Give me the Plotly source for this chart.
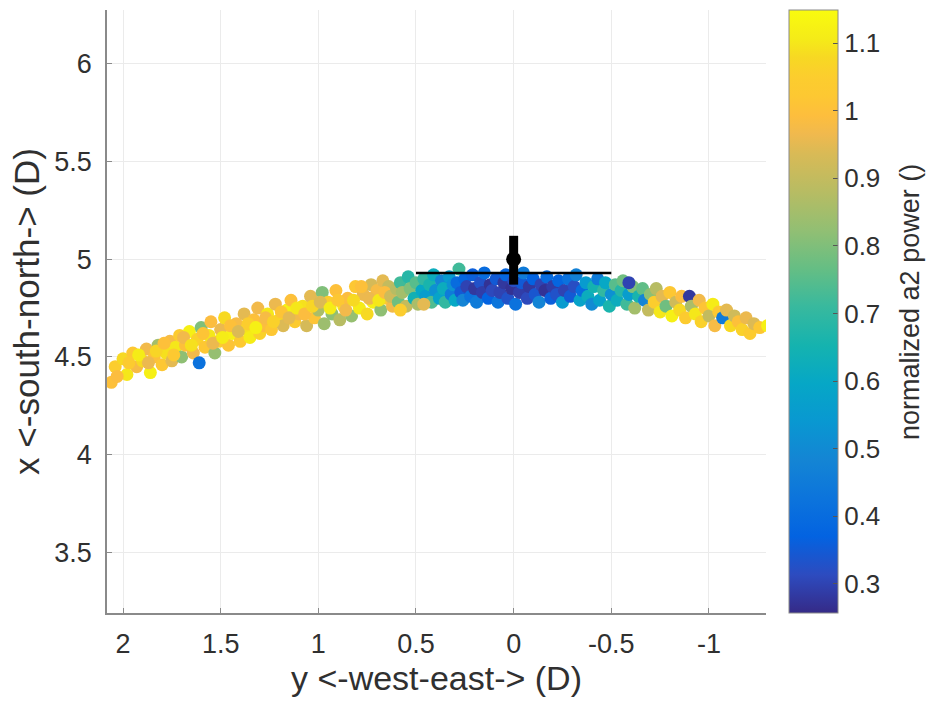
import plotly.graph_objects as go

# ---- West segment: (horizontal y west-east, vertical x south-north, normalized a2 power)
west_we = [2.06, 2.04, 2.00, 1.98, 1.95, 1.93, 1.90, 1.88, 1.86, 1.84, 1.82, 1.80, 1.78, 1.76, 1.75,
           1.73, 1.71, 1.70, 1.68, 1.66, 1.64, 1.62, 1.60, 1.58, 1.56, 1.55, 1.53, 1.51, 1.50,
           1.48, 1.46, 1.44, 1.42, 1.40, 1.38, 1.37, 1.35, 1.33, 1.31, 1.30, 1.28, 1.26, 1.24, 1.22,
           1.20, 1.18, 1.16, 1.14, 1.12, 1.10, 1.08, 1.06, 1.04, 1.02, 1.00, 0.98, 0.97, 0.95, 0.93,
           0.91, 0.89, 0.87, 0.85, 0.83, 0.81, 0.79, 0.77, 0.75, 0.73, 0.72, 0.70, 0.68, 0.67, 0.65,
           0.64, 0.62,
           2.03, 1.97, 1.92, 1.87, 1.83, 1.79, 1.74, 1.69, 1.65, 1.59, 1.54, 1.49, 1.45, 1.41, 1.36,
           1.32, 1.27, 1.23, 1.19, 1.15, 1.11, 1.07, 1.03, 0.99, 0.94, 0.90, 0.86, 0.82, 0.78, 0.74,
           0.69, 0.66, 0.63, 0.60, 1.61]
west_sn = [4.37, 4.45, 4.49, 4.41, 4.52, 4.45, 4.48, 4.54, 4.42, 4.50, 4.56, 4.46, 4.52, 4.58, 4.48,
           4.55, 4.61, 4.50, 4.56, 4.63, 4.52, 4.59, 4.65, 4.55, 4.61, 4.68, 4.52, 4.58, 4.64,
           4.70, 4.56, 4.62, 4.67, 4.58, 4.72, 4.64, 4.60, 4.69, 4.75, 4.62, 4.66, 4.72, 4.64, 4.77,
           4.69, 4.66, 4.74, 4.79, 4.68, 4.72, 4.76, 4.66, 4.81, 4.70, 4.74, 4.83, 4.67, 4.78, 4.72,
           4.84, 4.69, 4.76, 4.80, 4.71, 4.86, 4.75, 4.82, 4.72, 4.87, 4.78, 4.84, 4.74, 4.89, 4.80,
           4.86, 4.76,
           4.40, 4.47, 4.51, 4.47, 4.53, 4.57, 4.51, 4.60, 4.56, 4.62, 4.57, 4.60, 4.66, 4.63, 4.67,
           4.65, 4.70, 4.68, 4.73, 4.70, 4.75, 4.72, 4.76, 4.78, 4.75, 4.79, 4.74, 4.79, 4.86, 4.80,
           4.79, 4.83, 4.81, 4.85, 4.47]
west_pw = [1.00, 1.05, 1.08, 1.10, 1.02, 0.98, 1.08, 0.97, 1.12, 1.00, 0.85, 1.02, 1.09, 0.98, 0.95,
           1.10, 1.04, 0.82, 1.00, 1.12, 0.97, 1.06, 0.80, 1.02, 1.10, 0.99, 0.83, 1.05, 0.96,
           1.08, 1.01, 1.12, 0.98, 1.03, 0.95, 1.09, 1.11, 1.00, 0.97, 1.06, 0.99, 1.10, 1.02, 0.96,
           1.08, 0.94, 1.12, 1.00, 1.04, 0.97, 1.09, 0.93, 0.95, 1.01, 0.86, 0.80, 0.84, 1.05, 0.82,
           1.00, 0.88, 1.10, 0.99, 0.83, 1.02, 1.11, 0.96, 1.08, 0.93, 1.12, 0.98, 0.82, 0.95, 1.03,
           0.90, 0.97,
           0.99, 1.04, 1.11, 0.96, 1.07, 1.00, 1.03, 0.97, 1.09, 1.01, 0.96, 1.11, 1.00, 0.94, 1.05,
           1.12, 0.98, 1.06, 1.01, 0.95, 1.10, 0.99, 1.07, 0.94, 1.11, 1.02, 0.97, 1.08, 1.00, 0.96,
           1.10, 0.99, 0.92, 0.88, 0.42]

# ---- Transition west-center
trans_we = [0.59, 0.58, 0.57, 0.55, 0.54, 0.53, 0.51, 0.50, 0.49, 0.47, 0.46, 0.45, 0.43, 0.42,
            0.41, 0.40, 0.38, 0.37, 0.36, 0.35, 0.33, 0.32, 0.31, 0.30, 0.58, 0.46]
trans_sn = [4.78, 4.88, 4.83, 4.76, 4.91, 4.85, 4.80, 4.88, 4.77, 4.84, 4.90, 4.81, 4.87, 4.78,
            4.92, 4.84, 4.80, 4.89, 4.85, 4.78, 4.91, 4.82, 4.87, 4.79, 4.74, 4.77]
trans_pw = [0.78, 0.72, 0.85, 0.90, 0.68, 0.80, 0.64, 0.75, 0.86, 0.60, 0.70, 0.56, 0.66, 0.74,
            0.62, 0.52, 0.58, 0.48, 0.62, 0.70, 0.55, 0.45, 0.52, 0.60, 1.05, 0.95]

# ---- Center segment
center_we = [0.29, 0.28, 0.27, 0.26, 0.25, 0.24, 0.22, 0.21, 0.20, 0.19, 0.17, 0.16, 0.15, 0.13,
             0.12, 0.11, 0.09, 0.08, 0.07, 0.05, 0.04, 0.03, 0.01, 0.00, -0.01, -0.03, -0.04,
             -0.05, -0.07, -0.08, -0.10, -0.11, -0.13, -0.14, -0.16, -0.17, -0.19, -0.20, -0.22,
             -0.23, -0.25, -0.26, -0.28, -0.29, -0.31, -0.32, -0.34, -0.35]
center_sn = [4.88, 4.95, 4.83, 4.79, 4.90, 4.86, 4.81, 4.92, 4.85, 4.78, 4.88, 4.83, 4.93, 4.80,
             4.87, 4.84, 4.90, 4.78, 4.83, 4.88, 4.92, 4.80, 4.85, 4.89, 4.77, 4.83, 4.88,
             4.93, 4.80, 4.86, 4.90, 4.82, 4.78, 4.87, 4.84, 4.91, 4.80, 4.86, 4.82,
             4.89, 4.78, 4.84, 4.90, 4.81, 4.86, 4.92, 4.79, 4.84]
center_pw = [0.40, 0.72, 0.35, 0.48, 0.38, 0.30, 0.42, 0.36, 0.28, 0.45, 0.33, 0.29, 0.40, 0.37,
             0.27, 0.31, 0.35, 0.43, 0.30, 0.28, 0.38, 0.33, 0.27, 0.32, 0.42, 0.29, 0.35,
             0.45, 0.31, 0.28, 0.37, 0.34, 0.48, 0.30, 0.27, 0.40, 0.36, 0.29, 0.33,
             0.38, 0.55, 0.30, 0.42, 0.35, 0.32, 0.47, 0.58, 0.40]

# ---- Transition center-east
east_tr_we = [-0.37, -0.38, -0.40, -0.41, -0.43, -0.44, -0.46, -0.47, -0.49, -0.50, -0.52, -0.53,
              -0.55, -0.56, -0.58, -0.59, -0.61, -0.62, -0.64, -0.66, -0.67, -0.69, -0.70, -0.59]
east_tr_sn = [4.88, 4.81, 4.77, 4.86, 4.90, 4.79, 4.84, 4.88, 4.76, 4.82, 4.87, 4.79,
              4.84, 4.89, 4.77, 4.82, 4.86, 4.75, 4.81, 4.85, 4.79, 4.74, 4.82, 4.88]
east_tr_pw = [0.55, 0.62, 0.50, 0.65, 0.45, 0.58, 0.70, 0.60, 0.66, 0.52, 0.75, 0.62,
              0.68, 0.78, 0.72, 0.56, 0.80, 0.85, 0.66, 0.76, 0.48, 0.90, 0.82, 0.30]

# ---- East segment
east_we = [-0.72, -0.73, -0.75, -0.76, -0.78, -0.80, -0.81, -0.83, -0.85, -0.86, -0.88, -0.90,
           -0.91, -0.93, -0.95, -0.96, -0.98, -1.00, -1.02, -1.03, -1.05, -1.07, -1.09, -1.11,
           -1.13, -1.15, -1.17, -1.19, -1.21, -1.23, -1.26, -1.30]
east_sn = [4.78, 4.85, 4.73, 4.81, 4.76, 4.83, 4.71, 4.78, 4.74, 4.81, 4.70, 4.81,
           4.76, 4.72, 4.79, 4.68, 4.75, 4.71, 4.77, 4.66, 4.73, 4.70, 4.74, 4.66,
           4.71, 4.68, 4.64, 4.70, 4.62, 4.67, 4.65, 4.66]
east_pw = [1.05, 0.88, 1.10, 0.95, 0.78, 1.02, 1.12, 0.92, 1.08, 0.99, 1.04, 0.28,
           0.86, 1.10, 0.97, 1.06, 1.01, 0.90, 1.11, 0.98, 1.03, 0.45, 0.95, 1.08,
           0.92, 1.00, 1.06, 0.96, 1.04, 0.94, 1.02, 1.12]

# ---- Mean position with error bars
mean_we = [0.0]
mean_sn = [5.0]
hbar_we = [0.5, -0.5]
hbar_sn = [4.93, 4.93]
vbar_we = [0.0, 0.0]
vbar_sn = [4.87, 5.12]

# ---- Axis / colorbar ticks
x_ticks = [2, 1.5, 1, 0.5, 0, -0.5, -1]
x_ticklabels = ["2", "1.5", "1", "0.5", "0", "-0.5", "-1"]
y_ticks = [3.5, 4, 4.5, 5, 5.5, 6]
y_ticklabels = ["3.5", "4", "4.5", "5", "5.5", "6"]
c_ticks = [0.3, 0.4, 0.5, 0.6, 0.7, 0.8, 0.9, 1.0, 1.1]
c_ticklabels = ["0.3", "0.4", "0.5", "0.6", "0.7", "0.8", "0.9", "1", "1.1"]

# MATLAB parula colormap (sampled)
parula = [
    [0.000, "#352a87"], [0.063, "#2d4bbf"], [0.127, "#0363e1"], [0.190, "#0c74dc"],
    [0.254, "#1485d4"], [0.317, "#0998d1"], [0.381, "#06a7c6"], [0.444, "#15b3af"],
    [0.508, "#38b99e"], [0.571, "#65be84"], [0.635, "#92bf73"], [0.698, "#b7bc63"],
    [0.762, "#d9ba56"], [0.794, "#f0b94e"], [0.825, "#fdbe3d"], [0.857, "#fdc832"],
    [0.889, "#fccd2e"], [0.921, "#f7d823"], [0.952, "#f5eb18"], [1.000, "#f9fb0e"],
]

all_we = west_we + trans_we + center_we + east_tr_we + east_we
all_sn = west_sn + trans_sn + center_sn + east_tr_sn + east_sn
all_pw = west_pw + trans_pw + center_pw + east_tr_pw + east_pw

FONT = "Liberation Sans, Arial, sans-serif"
TXT = "#303030"

fig = go.Figure()
fig.add_trace(go.Scatter(
    x=all_we, y=all_sn, mode="markers",
    marker=dict(size=13, color=all_pw, colorscale=parula, cmin=0.257, cmax=1.149,
                line=dict(width=0),
                colorbar=dict(
                    x=1.035, xanchor="left", y=0, yanchor="bottom", len=1, lenmode="fraction",
                    xpad=0, ypad=0,
                    thickness=49, thicknessmode="pixels",
                    outlinecolor="#8a8a8a", outlinewidth=1,
                    tickvals=c_ticks, ticktext=c_ticklabels,
                    ticks="inside", ticklen=5, tickcolor="#555",
                    tickfont=dict(family=FONT, size=26, color=TXT),
                )),
    showlegend=False, hoverinfo="skip",
))
fig.add_trace(go.Scatter(x=hbar_we, y=hbar_sn, mode="lines",
                         line=dict(color="black", width=2.5), showlegend=False))
fig.add_trace(go.Scatter(x=vbar_we, y=vbar_sn, mode="lines",
                         line=dict(color="black", width=9), showlegend=False))
fig.add_trace(go.Scatter(x=mean_we, y=mean_sn, mode="markers",
                         marker=dict(color="black", size=15, symbol="circle"),
                         showlegend=False))

fig.update_layout(
    width=928, height=711,
    margin=dict(l=107, r=162, t=10, b=98, autoexpand=False),
    paper_bgcolor="white", plot_bgcolor="white",
    font=dict(family=FONT, color=TXT),
    annotations=[dict(
        text="normalized a2 power ()", textangle=-90, showarrow=False,
        xref="paper", yref="paper", x=1.2185, y=0.5158, xanchor="center", yanchor="middle",
        font=dict(family=FONT, size=27, color=TXT),
    )],
)
fig.update_xaxes(
    range=[2.082, -1.292], tickvals=x_ticks, ticktext=x_ticklabels,
    showgrid=True, gridcolor="#ebebeb", gridwidth=1, zeroline=False,
    showline=True, linecolor="#8a8a8a", linewidth=1.5,
    ticks="inside", ticklen=5, tickcolor="#8a8a8a",
    tickfont=dict(family=FONT, size=27, color=TXT), ticklabelstandoff=6,
    automargin=False,
    title=dict(text="y <-west-east-> (D)", font=dict(family=FONT, size=34, color=TXT), standoff=6),
)
fig.update_yaxes(
    range=[3.189, 6.276], tickvals=y_ticks, ticktext=y_ticklabels,
    showgrid=True, gridcolor="#ebebeb", gridwidth=1, zeroline=False,
    showline=True, linecolor="#8a8a8a", linewidth=1.5,
    ticks="inside", ticklen=5, tickcolor="#8a8a8a",
    tickfont=dict(family=FONT, size=27, color=TXT), ticklabelstandoff=8,
    automargin=False,
    title=dict(text="x <-south-north-> (D)", font=dict(family=FONT, size=35, color=TXT), standoff=4),
)

fig.write_html("out.html")
